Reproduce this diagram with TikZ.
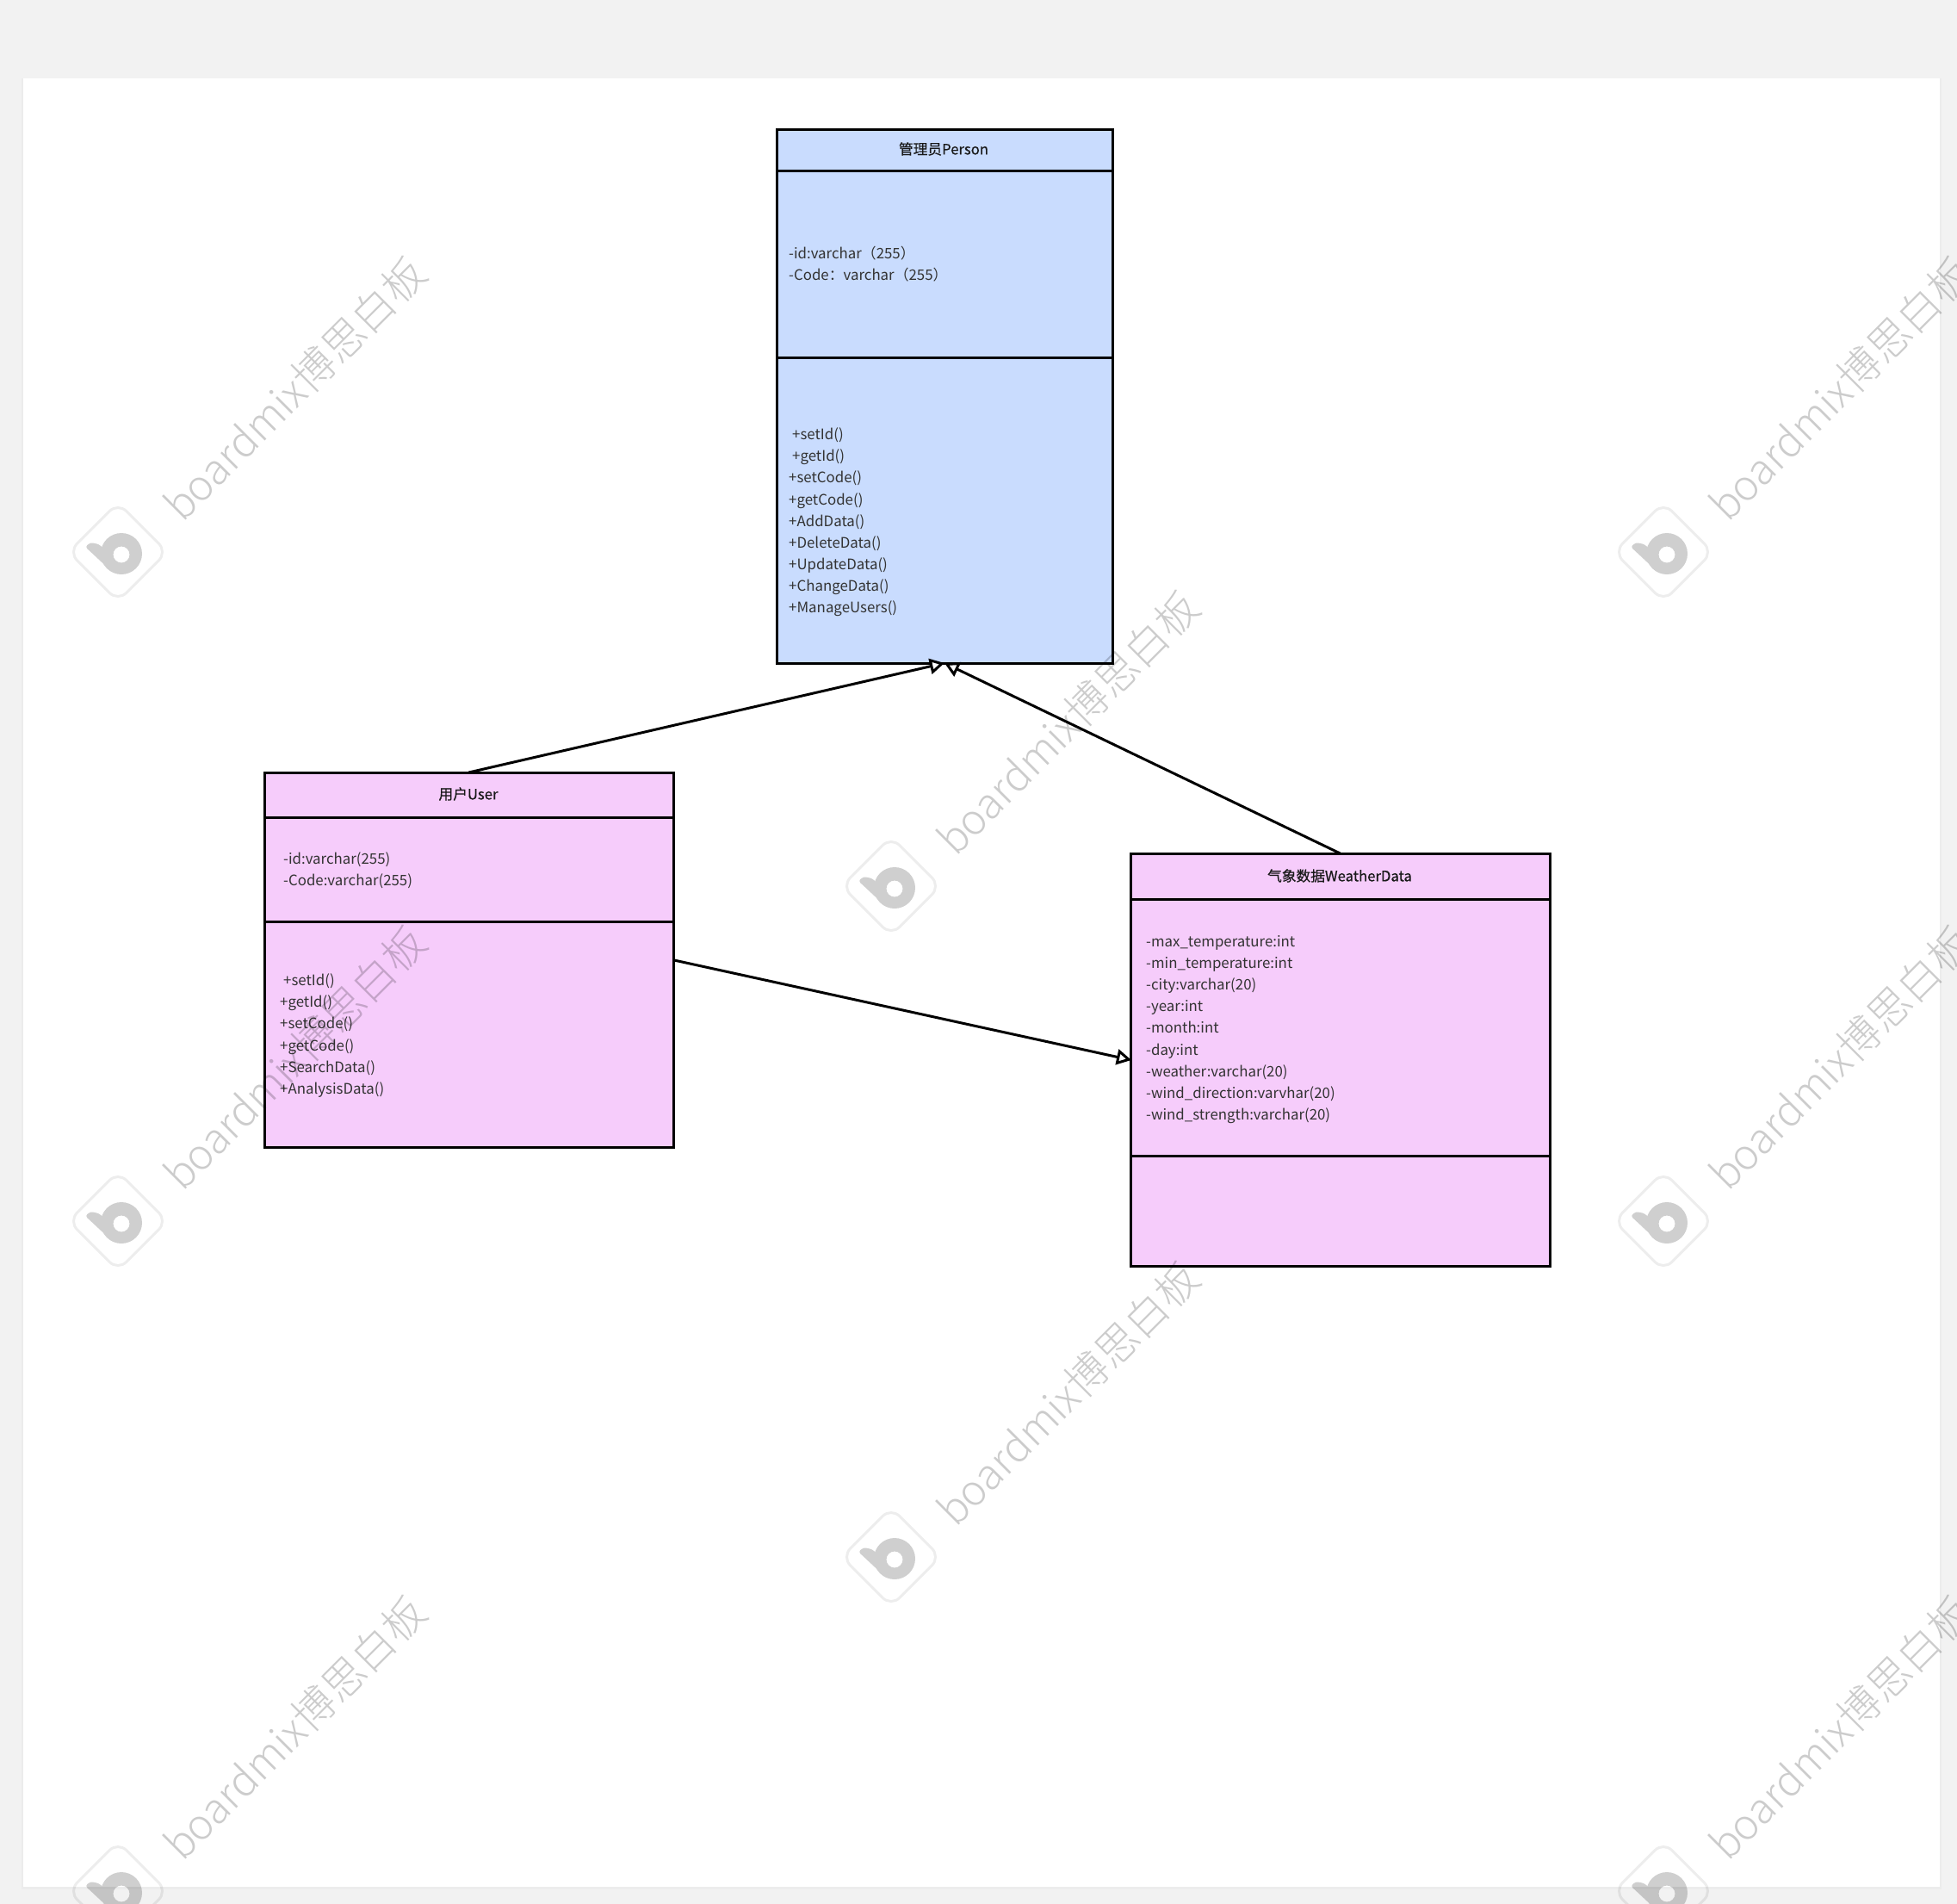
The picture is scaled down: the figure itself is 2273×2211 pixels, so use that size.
\documentclass[tikz,border=0pt]{standalone}
\usepackage{fontspec}
\usetikzlibrary{arrows.meta}
\setmainfont{Noto Sans CJK SC}
\newfontfamily\titlefont[FakeBold=0.5]{Noto Sans CJK SC}
\newfontfamily\wmfont{Noto Sans CJK SC Light}
\definecolor{pagebg}{HTML}{F2F2F2}
\definecolor{pageedge}{HTML}{ECECEC}
\definecolor{bluecell}{HTML}{C9DCFE}
\definecolor{pinkcell}{HTML}{F6CCFB}
\definecolor{bodytext}{HTML}{333333}
\tikzset{
  x=1pt,y=-1pt,
  cell/.style={draw=black,line width=3pt,anchor=north west,inner sep=0pt,outer sep=0pt},
  bluebox/.style={cell,fill=bluecell},
  pinkbox/.style={cell,fill=pinkcell},
  classtitle/.style={font=\titlefont\fontsize{16.7}{22}\selectfont,text=black!90,anchor=center,inner sep=0pt},
  members/.style={font=\fontsize{16.85}{25.15}\selectfont,text=bodytext,align=left,anchor=west,inner sep=0pt},
  inherit/.style={draw=black,line width=3pt,-{Triangle[open,fill=white,length=17pt,width=18pt,line width=3pt]}},
  wmtext/.style={font=\wmfont\fontsize{48.8}{50}\selectfont,text=black,text opacity=.2,rotate=45,anchor=base west,inner sep=0pt},
  wmframe/.style={draw=black,draw opacity=.07,line width=3pt,rounded corners=14pt,rotate=45,minimum width=81pt,minimum height=81pt,inner sep=0pt},
}
\newcommand{\wmark}[3]{%
  \begin{scope}[shift={(#1,#2)}]
    \node[wmframe] (wmf#3) at (0,0) {};
    \begin{scope}[transparency group,opacity=.19]
      \fill[black,even odd rule] (4,2) circle[radius=24pt] (4,3) circle[radius=9.5pt];
      \fill[black,rounded corners=3pt] (-38,-6) -- (-32,-11) -- (-22,-9) -- (-5.5,7) -- (3,26) -- (-8,22) -- cycle;
    \end{scope}
    \node[wmtext] (wmt#3) at (75,-33) {boardmix博思白板};
  \end{scope}%
}
\begin{document}
\begin{tikzpicture}
\useasboundingbox (0,0) rectangle (2273,2211);
\fill[pagebg] (0,0) rectangle (2273,2211);
\fill[pageedge] (25,91) rectangle (2255,2194);
\fill[white] (27,91) rectangle (2253,2191);

% Person
\node[bluebox,minimum width=390pt,minimum height=48pt] (pT) at (902,150) {};
\node[bluebox,minimum width=390pt,minimum height=217pt] (pA) at (902,198) {};
\node[bluebox,minimum width=390pt,minimum height=355pt] (pM) at (902,415) {};
\node[classtitle] (pTt) at (1096,173) {管理员Person};
\node[members] (pAt) at (916,306.5) {-id:varchar（255）\\-Code：varchar（255）};
\node[members] (pMt) at (916,606.5) {\hspace*{4pt}+setId()\\\hspace*{4pt}+getId()\\+setCode()\\+getCode()\\+AddData()\\+DeleteData()\\+UpdateData()\\+ChangeData()\\+ManageUsers()};

% User
\node[pinkbox,minimum width=475pt,minimum height=52pt] (uT) at (307,897) {};
\node[pinkbox,minimum width=475pt,minimum height=121pt] (uA) at (307,949) {};
\node[pinkbox,minimum width=475pt,minimum height=262pt] (uM) at (307,1070) {};
\node[classtitle] (uTt) at (544,922) {用户User};
\node[members] (uAt) at (329,1011) {-id:varchar(255)\\-Code:varchar(255)};
\node[members] (uMt) at (325,1202.5) {\hspace*{4pt}+setId()\\+getId()\\+setCode()\\+getCode()\\+SearchData()\\+AnalysisData()};

% WeatherData
\node[pinkbox,minimum width=487pt,minimum height=53pt] (wT) at (1313,991) {};
\node[pinkbox,minimum width=487pt,minimum height=298pt] (wA) at (1313,1044) {};
\node[pinkbox,minimum width=487pt,minimum height=128pt] (wM) at (1313,1342) {};
\node[classtitle] (wTt) at (1556,1017) {气象数据WeatherData};
\node[members] (wAt) at (1331,1195.5) {-max\_temperature:int\\-min\_temperature:int\\-city:varchar(20)\\-year:int\\-month:int\\-day:int\\-weather:varchar(20)\\-wind\_direction:varvhar(20)\\-wind\_strength:varchar(20)};

% Connectors
\coordinate (uOut) at (783,1115);
\coordinate (wIn) at (1314,1231);
\draw[inherit] (uT.north) -- (pM.south);
\draw[inherit] (wT.north) -- (pM.south);
\draw[inherit] (uOut) -- (wIn);

% Watermark
\begin{scope}
  \clip (0,0) rectangle (2273,2211);
  \wmark{137}{641}{a}
  \wmark{1035}{1029}{b}
  \wmark{1932}{641}{c}
  \wmark{137}{1418}{d}
  \wmark{1035}{1808}{e}
  \wmark{1932}{1418}{f}
  \wmark{137}{2196}{g}
  \wmark{1932}{2196}{h}
\end{scope}
\end{tikzpicture}
\end{document}
